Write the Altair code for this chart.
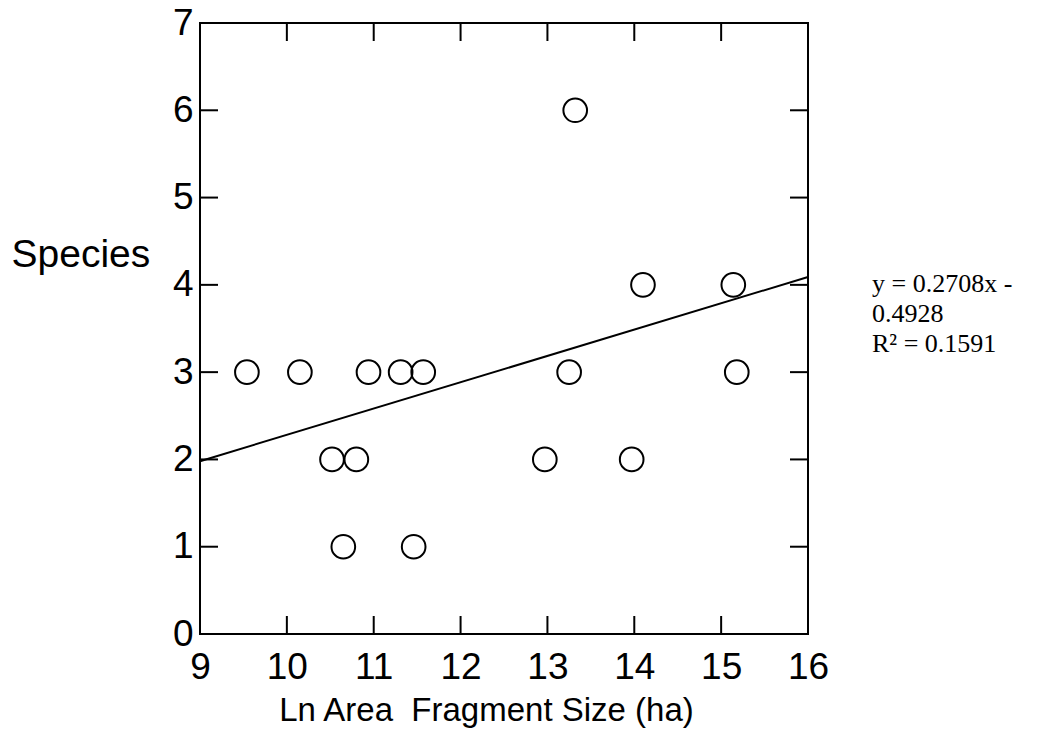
import altair as alt
import pandas as pd

# Data
area_ln = [9.54, 10.15, 10.94, 11.31, 11.57, 10.52, 10.80, 10.65, 11.46,
           12.97, 13.97, 13.25, 15.18, 14.10, 15.14, 13.32]
species = [3, 3, 3, 3, 3, 2, 2, 1, 1, 2, 2, 3, 3, 4, 4, 6]

trend_x = [9, 16]
trend_y = [1.98, 4.09]

x_ticks = [9, 10, 11, 12, 13, 14, 15, 16]
y_ticks = [0, 1, 2, 3, 4, 5, 6, 7]
x_inner = [10, 11, 12, 13, 14, 15]
y_inner = [1, 2, 3, 4, 5, 6]

eq_text_str = "y = 0.2708x -\n0.4928\nR\u00b2 = 0.1591"

W, H = 608, 611
TICK = 18

pts = pd.DataFrame({"x": area_ln, "y": species})
trend = pd.DataFrame({"x": trend_x, "y": trend_y})
xt = pd.DataFrame({"x": x_inner})
yt = pd.DataFrame({"y": y_inner})

xscale = alt.Scale(domain=[9, 16], nice=False, zero=False)
yscale = alt.Scale(domain=[0, 7], nice=False, zero=False)

FONT = "Liberation Sans"

xaxis = alt.Axis(values=x_ticks, format="d", tickSize=0, domain=False, grid=False,
                 labelFont=FONT, labelFontSize=37, labelColor="black",
                 labelPadding=15, labelFlush=False,
                 title="Ln Area\u00a0 Fragment Size (ha)", titleFont=FONT,
                 titleFontSize=33, titleFontWeight="normal", titleColor="black",
                 titleX=286, titleY=76, titleBaseline="middle", titleAlign="center")
yaxis = alt.Axis(values=y_ticks, format="d", tickSize=0, domain=False, grid=False,
                 labelFont=FONT, labelFontSize=37, labelColor="black",
                 labelPadding=7, labelFlush=False, labelBaseline="middle",
                 title="Species", titleFont=FONT, titleFontSize=39,
                 titleFontWeight="normal", titleColor="black", titleAngle=0,
                 titleAlign="left", titleBaseline="middle", titleX=-189, titleY=231)

X = lambda: alt.X("x:Q", scale=xscale, axis=xaxis)
Y = lambda: alt.Y("y:Q", scale=yscale, axis=yaxis)

points = alt.Chart(pts).mark_point(shape="circle", size=560, filled=False,
                                   stroke="black", strokeWidth=2, opacity=1).encode(
    x=X(), y=Y())

line = alt.Chart(trend).mark_line(color="black", strokeWidth=2).encode(
    x=X(), y=Y())

bot_ticks = alt.Chart(xt).mark_rule(color="black", strokeWidth=2).encode(
    x=X(), y=alt.value(H), y2=alt.value(H - TICK))
top_ticks = alt.Chart(xt).mark_rule(color="black", strokeWidth=2).encode(
    x=X(), y=alt.value(0), y2=alt.value(TICK))
left_ticks = alt.Chart(yt).mark_rule(color="black", strokeWidth=2).encode(
    y=Y(), x=alt.value(0), x2=alt.value(TICK))
right_ticks = alt.Chart(yt).mark_rule(color="black", strokeWidth=2).encode(
    y=Y(), x=alt.value(W), x2=alt.value(W - TICK))

eq_text = alt.Chart(pd.DataFrame({"t": [eq_text_str]})).mark_text(
    font="Liberation Serif", fontSize=26, align="left", baseline="middle",
    color="black", lineBreak="\n", lineHeight=30).encode(
    x=alt.value(672), y=alt.value(261), text="t:N")

chart = alt.layer(points, line, bot_ticks, top_ticks, left_ticks, right_ticks,
                  eq_text).properties(
    width=W, height=H,
    padding={"left": 200, "top": 23, "right": 247, "bottom": 109},
    autosize=alt.AutoSizeParams(type="none"),
    background="white",
).configure_view(stroke="black", strokeWidth=2)

chart.save("out.html", embed_options={"renderer": "svg", "actions": False})
